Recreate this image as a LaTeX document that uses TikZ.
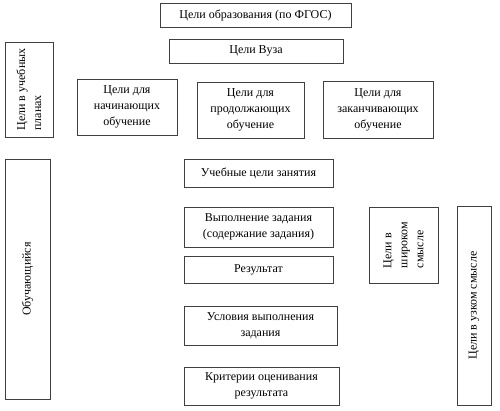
\documentclass[tikz,border=0pt]{standalone}
\usepackage{fontspec}
\setmainfont{Liberation Serif}
\begin{document}
\begin{tikzpicture}[x=1pt,y=-1pt,
  box/.style={draw=black!75, line width=0.8pt, inner sep=0pt, align=center,
    font=\fontsize{12}{16}\selectfont},
  vbox/.style={box, rotate=90}]
\useasboundingbox (0,0) rectangle (500,410);
\node[box, minimum width=191, minimum height=24] (fgos) at (255.5,15) {Цели образования (по ФГОС)};
\node[box, minimum width=174, minimum height=24] (vuz) at (256,51) {Цели Вуза};
\node[vbox, align=left, minimum width=95, minimum height=48] (plans) at (29,89.5) {Цели в учебных\\планах};
\node[box, minimum width=100, minimum height=56] (beg) at (127,107) {Цели для\\начинающих\\обучение};
\node[box, minimum width=107, minimum height=56] (cont) at (250.5,110) {Цели для\\продолжающих\\обучение};
\node[box, minimum width=110, minimum height=57] (fin) at (378,109.5) {Цели для\\заканчивающих\\обучение};
\node[vbox, minimum width=240, minimum height=45] (learner) at (27.5,279) {Обучающийся};
\node[box, minimum width=149, minimum height=28] (goals) at (258.5,173) {Учебные цели занятия};
\node[box, minimum width=149, minimum height=40] (exec) at (258.5,227) {Выполнение задания\\(содержание задания)};
\node[box, minimum width=149, minimum height=27] (res) at (258.5,269.5) {Результат};
\node[box, minimum width=153, minimum height=39] (cond) at (260.5,325.5) {Условия выполнения\\задания};
\node[box, minimum width=155, minimum height=38] (crit) at (261.5,386) {Критерии оценивания\\результата};
\node[vbox, align=left, minimum width=76, minimum height=69] (wide) at (403.5,245) {Цели в\\широком\\смысле};
\node[vbox, minimum width=199, minimum height=34] (narrow) at (474,305.5) {Цели в узком смысле};
\end{tikzpicture}
\end{document}
